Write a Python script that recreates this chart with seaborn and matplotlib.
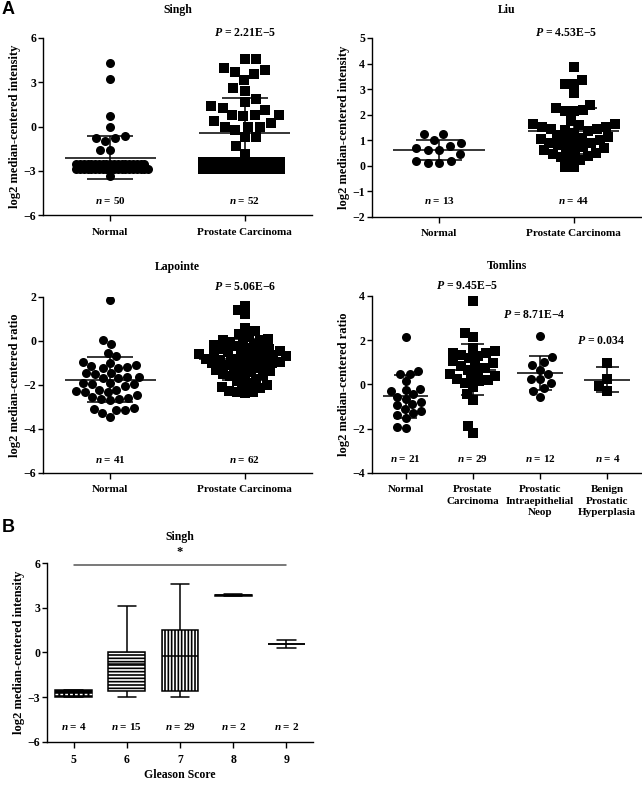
import warnings
import matplotlib
matplotlib.use("Agg")
import matplotlib.pyplot as plt
import pandas as pd
import seaborn as sns

warnings.filterwarnings("ignore")

# ================= DATA =================
# Singh: the values sitting at the detection floor are kept apart so that
# they can be packed more tightly (as Prism does) than the spread-out ones
SINGH_GROUPS = ["Normal", "Prostate Carcinoma"]
SINGH_NORMAL = [4.28, 3.22, 0.68, 0.00, -0.63, -0.76, -0.76, -1.00, -1.58, -1.58]
SINGH_NORMAL_FLOOR = [-2.55, -2.55, -2.55, -2.55, -2.55, -2.55, -2.55, -2.55, -2.55, -2.55,
                      -2.55, -2.55, -2.55, -2.55, -2.55, -2.55, -2.55, -2.55, -2.55,
                      -2.85, -2.85, -2.85, -2.85, -2.85, -2.85, -2.85, -2.85, -2.85, -2.85,
                      -2.85, -2.85, -2.85, -2.85, -2.85, -2.85, -2.85, -2.85, -2.85, -2.85,
                      -3.36]
SINGH_CARCINOMA = [4.60, 4.57, 3.94, 3.85, 3.70, 3.56, 3.18, 2.60, 2.43, 1.87,
                   1.64, 1.36, 1.26, 1.13, 0.79, 0.79, 0.79, 0.68, 0.35, 0.22,
                   0.00, 0.00, 0.00, -0.27, -0.72, -0.72, -1.35, -1.85]
SINGH_CARCINOMA_FLOOR = [-2.43, -2.43, -2.43, -2.43, -2.43, -2.43, -2.43, -2.43, -2.43, -2.43,
                         -2.43, -2.43,
                         -2.90, -2.90, -2.90, -2.90, -2.90, -2.90, -2.90, -2.90, -2.90, -2.90,
                         -2.90, -2.90]
SINGH_MEAN = [-2.12, -0.43]
SINGH_SD = [1.45, 2.37]
SINGH_N = [50, 52]

LIU_GROUPS = ["Normal", "Prostate Carcinoma"]
LIU_NORMAL = [1.23, 1.23, 1.00, 0.91, 0.77, 0.62, 0.62, 0.68, 0.45, 0.17, 0.13, 0.13, 0.20]
LIU_CARCINOMA = [3.87, 3.35, 3.22, 3.22, 2.83, 2.37, 2.28, 2.18, 2.14, 2.14,
                 1.76, 1.63, 1.63, 1.59, 1.52, 1.52, 1.46, 1.46, 1.40, 1.35,
                 1.30, 1.20, 1.13, 1.10, 1.06, 1.03, 1.00, 0.95, 0.90, 0.88,
                 0.80, 0.75, 0.68, 0.65, 0.60, 0.58, 0.52, 0.48, 0.40, 0.35,
                 0.28, 0.22, -0.04, -0.04]
LIU_MEAN = [0.61, 1.37]
LIU_SD = [0.39, 0.91]
LIU_N = [13, 44]

LAPOINTE_GROUPS = ["Normal", "Prostate Carcinoma"]
LAPOINTE_NORMAL = [1.86, 0.05, -0.15, -0.53, -0.70, -0.95, -1.00, -1.09, -1.14, -1.17,
                   -1.21, -1.25, -1.45, -1.47, -1.50, -1.62, -1.62, -1.67, -1.70, -1.89,
                   -1.92, -1.95, -1.97, -2.05, -2.23, -2.23, -2.28, -2.30, -2.32, -2.45,
                   -2.55, -2.60, -2.62, -2.65, -2.70, -3.06, -3.10, -3.14, -3.14, -3.29,
                   -3.44]
LAPOINTE_CARCINOMA = [1.60, 1.39, 1.21, 0.58, 0.45, 0.30, 0.20, 0.10, 0.05, 0.05, 0.00, -0.05,
                      -0.15, -0.20, -0.25, -0.30, -0.35, -0.38, -0.40, -0.45, -0.50, -0.52,
                      -0.55, -0.60, -0.62, -0.65, -0.70, -0.72, -0.75, -0.80, -0.82, -0.85,
                      -0.88, -0.90, -0.95, -1.00, -1.02, -1.05, -1.08, -1.10, -1.15, -1.20,
                      -1.25, -1.30, -1.35, -1.40, -1.45, -1.50, -1.55, -1.58, -1.62, -1.73,
                      -1.80, -1.90, -2.00, -2.05, -2.07, -2.15, -2.26, -2.30, -2.30, -2.38]
LAPOINTE_MEAN = [-1.77, -0.83]
LAPOINTE_SD = [1.02, 0.94]
LAPOINTE_N = [41, 62]

TOMLINS_GROUPS = ["Normal", "Prostate\nCarcinoma", "Prostatic\nIntraepithelial\nNeop",
                  "Benign\nProstatic\nHyperplasia"]
TOMLINS_NORMAL = [2.15, 0.63, 0.48, 0.45, 0.15, -0.20, -0.27, -0.30, -0.45, -0.55, -0.65,
                  -0.80, -0.90, -0.95, -1.10, -1.20, -1.28, -1.40, -1.50, -1.93, -1.95]
TOMLINS_CARCINOMA = [3.79, 2.33, 2.14, 1.65, 1.50, 1.43, 1.40, 1.35, 1.30, 1.20,
                     1.05, 0.95, 0.90, 0.85, 0.75, 0.65, 0.55, 0.45, 0.40, 0.30,
                     0.25, 0.20, 0.15, 0.05, -0.10, -0.42, -0.68, -1.88, -2.18]
TOMLINS_PIN = [2.21, 1.23, 1.02, 0.87, 0.65, 0.45, 0.23, 0.23, 0.05, -0.18, -0.30, -0.56]
TOMLINS_BPH = [0.98, 0.23, -0.08, -0.30]
TOMLINS_MEAN = [-0.54, 0.67, 0.50, 0.21]
TOMLINS_SD = [0.96, 1.16, 0.77, 0.56]
TOMLINS_N = [21, 29, 12, 4]

GLEASON_SCORES = ["5", "6", "7", "8", "9"]
GLEASON_MIN = [-2.97, -3.00, -3.00, 3.80, 0.30]
GLEASON_Q1 = [-2.97, -2.60, -2.60, 3.82, 0.55]
GLEASON_MED = [-2.76, -0.75, -0.25, 3.85, 0.55]
GLEASON_Q3 = [-2.53, 0.00, 1.50, 3.88, 0.55]
GLEASON_MAX = [-2.53, 3.15, 4.60, 3.90, 0.82]
GLEASON_N = [4, 15, 29, 2, 2]
# =========================================

DOT_SIZE = 6.5
SWARMS = []

sns.set_style("ticks")
plt.rcParams["font.family"] = ["Liberation Serif", "DejaVu Serif"]
plt.rcParams["font.weight"] = "bold"
plt.rcParams["axes.labelweight"] = "bold"
plt.rcParams["mathtext.fontset"] = "custom"
plt.rcParams["mathtext.it"] = "Liberation Serif:italic:bold"
plt.rcParams["mathtext.rm"] = "Liberation Serif:bold"
plt.rcParams["hatch.linewidth"] = 1.2
for key in ["axes.edgecolor", "text.color", "axes.labelcolor", "xtick.color", "ytick.color"]:
    plt.rcParams[key] = "black"


def dot_panel(ax, groups, swarms, means, sds):
    # swarms: (group index, values, marker, size used to lay out the swarm)
    for gi, vals, mk, lay in swarms:
        df = pd.DataFrame({"group": groups[gi], "value": vals})
        start = len(ax.collections)
        sns.swarmplot(data=df, x="group", y="value", order=groups, marker=mk,
                      size=lay, color="black", linewidth=0, ax=ax)
        SWARMS.extend(ax.collections[start:])
    # mean +/- SD
    for i, (m, s) in enumerate(zip(means, sds)):
        ax.hlines(m, i - 0.34, i + 0.34, color="black", lw=1.1, zorder=5)
        ax.vlines(i, m - s, m + s, color="black", lw=1.1, zorder=5)
        ax.hlines([m - s, m + s], i - 0.17, i + 0.17, color="black", lw=1.1, zorder=5)


def style_axis(ax, labels, ylim, yticks, ylabel, title, title_off, counts, n_y):
    ax.set_xlim(-0.5, len(labels) - 0.5)
    ax.set_ylim(*ylim)
    ax.set_yticks(yticks)
    ax.set_xticks(range(len(labels)))
    ax.set_xticklabels(labels, fontsize=8, linespacing=1.3)
    ax.set_xlabel("")
    ax.set_ylabel(ylabel, fontsize=9, labelpad=2)
    ax.tick_params(axis="y", length=3.5, width=1, pad=1.5, labelsize=8.5)
    ax.tick_params(axis="x", length=4, width=1, pad=5)
    sns.despine(ax=ax)
    for side in ("left", "bottom"):
        ax.spines[side].set_linewidth(1)
    ax.annotate(title, xy=(0.5, 1), xycoords="axes fraction", xytext=(0, title_off),
                textcoords="offset points", ha="center", va="center", fontsize=8.5)
    for i, n in enumerate(counts):
        ax.text(i, n_y, f"$n$ = {n}", ha="center", va="center", fontsize=8)


fig = plt.figure(figsize=(6.42, 7.85), dpi=100)

ax1 = fig.add_axes([0.067, 0.7261, 0.419, 0.2255])
dot_panel(ax1, SINGH_GROUPS,
          [(0, SINGH_NORMAL, "o", 7.0), (0, SINGH_NORMAL_FLOOR, "o", 2.6),
           (1, SINGH_CARCINOMA, "s", 8.0), (1, SINGH_CARCINOMA_FLOOR, "s", 4.8)],
          SINGH_MEAN, SINGH_SD)
style_axis(ax1, SINGH_GROUPS, (-6, 6), [-6, -3, 0, 3, 6], "log2 median-centered intensity",
           "Singh", 20, SINGH_N, -5.0)
ax1.text(1, 6.34, "$P$ = 2.21E−5", ha="center", va="center", fontsize=8.5)

ax2 = fig.add_axes([0.5794, 0.7236, 0.419, 0.228])
dot_panel(ax2, LIU_GROUPS, [(0, LIU_NORMAL, "o", 8.0), (1, LIU_CARCINOMA, "s", 6.3)],
          LIU_MEAN, LIU_SD)
style_axis(ax2, LIU_GROUPS, (-2, 5), list(range(-2, 6)), "log2 median-centered intensity",
           "Liu", 20, LIU_N, -1.34)
ax2.text(0.94, 5.2, "$P$ = 4.53E−5", ha="center", va="center", fontsize=8.5)

ax3 = fig.add_axes([0.067, 0.3975, 0.419, 0.2242])
dot_panel(ax3, LAPOINTE_GROUPS,
          [(0, LAPOINTE_NORMAL, "o", 6.3), (1, LAPOINTE_CARCINOMA, "s", 5.5)],
          LAPOINTE_MEAN, LAPOINTE_SD)
style_axis(ax3, LAPOINTE_GROUPS, (-6, 2), [-6, -4, -2, 0, 2], "log2 median-centered ratio",
           "Lapointe", 21.6, LAPOINTE_N, -5.4)
ax3.text(1, 2.45, "$P$ = 5.06E−6", ha="center", va="center", fontsize=8.5)

ax4 = fig.add_axes([0.5794, 0.3975, 0.419, 0.2255])
dot_panel(ax4, TOMLINS_GROUPS,
          [(0, TOMLINS_NORMAL, "o", 6.0), (1, TOMLINS_CARCINOMA, "s", 6.0),
           (2, TOMLINS_PIN, "o", 6.5), (3, TOMLINS_BPH, "s", 6.5)],
          TOMLINS_MEAN, TOMLINS_SD)
style_axis(ax4, TOMLINS_GROUPS, (-4, 4), [-4, -2, 0, 2, 4], "log2 median-centered ratio",
           "Tomlins", 21.6, TOMLINS_N, -3.33)
ax4.text(0.92, 4.45, "$P$ = 9.45E−5", ha="center", va="center", fontsize=8.5)
ax4.text(1.91, 3.14, "$P$ = 8.71E−4", ha="center", va="center", fontsize=8.5)
ax4.text(2.9, 1.96, "$P$ = 0.034", ha="center", va="center", fontsize=8.5)

# ---- panel B: box plots built from five-number summaries
ax5 = fig.add_axes([0.0732, 0.0548, 0.4143, 0.228])
box_df = pd.DataFrame({
    "score": [s for s in GLEASON_SCORES for _ in range(5)],
    "value": [v for row in zip(GLEASON_MIN, GLEASON_Q1, GLEASON_MED, GLEASON_Q3, GLEASON_MAX)
              for v in row],
})
sns.boxplot(data=box_df, x="score", y="value", order=GLEASON_SCORES, whis=(0, 100),
            width=0.69, color="white", linecolor="black", linewidth=1.1, fliersize=0, ax=ax5)
bc = ax5.containers[0]
boxes = list(bc.boxes)
boxes[0].set_facecolor("black")
boxes[1].set_hatch("-----")
boxes[2].set_hatch("|||||")
boxes[3].set_facecolor("black")
bc.medians[0].set_color("white")
bc.medians[0].set_linestyle((0, (2, 1.5)))
bc.medians[0].set_linewidth(1)

style_axis(ax5, GLEASON_SCORES, (-6, 6), [-6, -3, 0, 3, 6], "log2 median-centered intensity",
           "Singh", 18.7, GLEASON_N, -4.94)
ax5.set_xlabel("Gleason Score", fontsize=8.5, labelpad=2)
ax5.tick_params(axis="x", labelsize=8.5)
ax5.plot([0, 4], [5.87, 5.87], color="#555555", lw=1.1, clip_on=False)
ax5.text(2, 6.74, "*", ha="center", va="center", fontsize=9)

fig.text(8 / 642, 1 - 10 / 785, "A", fontsize=13, fontweight="bold",
         family="Liberation Sans", ha="center", va="center")
fig.text(8 / 642, 1 - 528 / 785, "B", fontsize=13, fontweight="bold",
         family="Liberation Sans", ha="center", va="center")

# lay out the swarms at their packing size, then show the markers larger (overlapping, like Prism)
fig.canvas.draw()
for coll in SWARMS:
    coll.__dict__.pop("draw", None)
    coll.set_sizes([DOT_SIZE ** 2])

fig.savefig("out.png", dpi=100)
